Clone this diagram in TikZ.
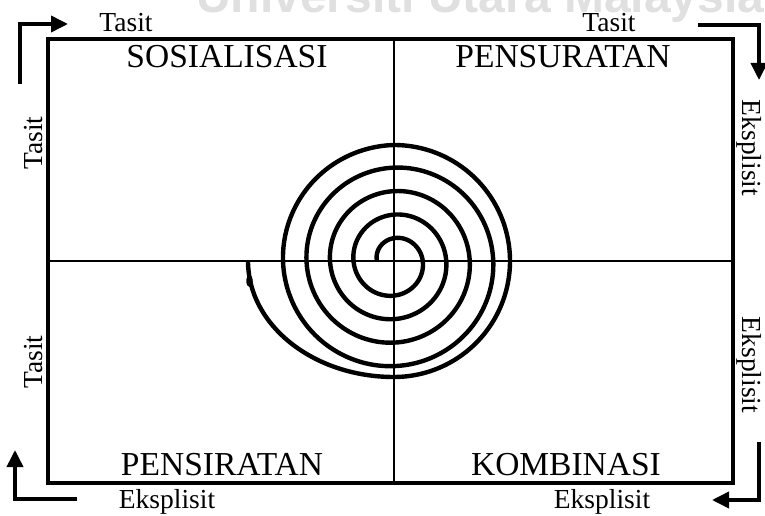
\documentclass[tikz,border=0pt]{standalone}
\usepackage{fontspec}
\setmainfont{Liberation Serif}
\newfontfamily\wmfont{Liberation Sans}
\usetikzlibrary{arrows.meta}
\begin{document}
\begin{tikzpicture}[x=1pt,y=1pt,
  bigl/.style={font=\fontsize{33.5}{40}\selectfont, anchor=base, inner sep=0pt},
  smalll/.style={font=\fontsize{27.5}{33}\selectfont, anchor=base, inner sep=0pt},
  corner/.style={line width=3.7pt, -{Triangle[length=17pt,width=16pt]}},
  frame/.style={line width=3.2pt},
  divider/.style={line width=2.6pt},
  spiral/.style={line width=4.4pt, line join=round}]
\useasboundingbox (0,0) rectangle (765,515);
% faint watermark
\begin{scope}
\clip (0,0) rectangle (765,515);
\node[anchor=base west, inner sep=0pt, font=\wmfont\bfseries\fontsize{48}{56}\selectfont, text=black!12] (wm) at (196,502) {Universiti Utara Malaysia};
\end{scope}
% frame and dividers
\coordinate (bl) at (48,32);
\coordinate (tr) at (733,476);
\coordinate (vt) at (394,476);
\coordinate (vb) at (394,32);
\coordinate (hl) at (48,254);
\coordinate (hr) at (733,254);
\draw[frame] (bl) rectangle (tr);
\draw[divider] (vb) -- (vt);
\draw[divider] (hl) -- (hr);
% quadrant labels
\node[bigl] (sos) at (227,447) {SOSIALISASI};
\node[bigl] (pen) at (563,447) {PENSURATAN};
\node[bigl] (pes) at (222,40) {PENSIRATAN};
\node[bigl] (kom) at (566,40) {KOMBINASI};
% side labels
\node[smalll] (t1) at (126,483) {Tasit};
\node[smalll] (t2) at (609,483) {Tasit};
\node[smalll] (e1) at (167,7) {Eksplisit};
\node[smalll] (e2) at (602,7) {Eksplisit};
\node[smalll, rotate=90] (t3) at (42,372) {Tasit};
\node[smalll, rotate=90] (t4) at (42,153) {Tasit};
\node[smalll, rotate=-90] (e3) at (742,367) {Eksplisit};
\node[smalll, rotate=-90] (e4) at (742,150) {Eksplisit};
% corner arrows
\coordinate (a1s) at (20,431);
\coordinate (a1e) at (68,491);
\coordinate (a2s) at (698,490);
\coordinate (a2e) at (759,435);
\coordinate (a3s) at (77,16);
\coordinate (a3e) at (15,65);
\coordinate (a4s) at (759,73);
\coordinate (a4e) at (712,15);
\draw[corner] (a1s) |- (a1e);
\draw[corner] (a2s) -| (a2e);
\draw[corner] (a3s) -| (a3e);
\draw[corner] (a4s) |- (a4e);
% spiral
\draw[spiral] plot[domain=0:1440, samples=500, smooth] ({394+(17+\x/360*23.5)*cos(180-\x)}, {254+(17+\x/360*23.5)*sin(180-\x)})
  -- plot[domain=0:270, samples=120, smooth] ({394+(116-5*max(0,1-\x/90))*cos(180-\x)}, {254+(116-5*max(0,1-\x/90))*sin(180-\x)})
  arc[start angle=270, end angle=180, x radius=146, y radius=116];
\fill (249.5,234) ellipse[x radius=3.2pt, y radius=6pt];
\end{tikzpicture}
\end{document}
